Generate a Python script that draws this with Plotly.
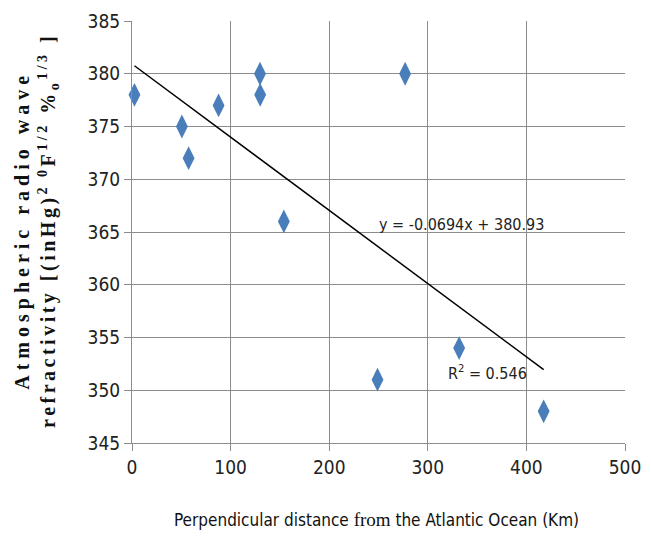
import plotly.graph_objects as go

distance_km = [2.5, 50.6, 57.4, 87.8, 129.8, 130.0, 154.0, 249.0, 277.0, 331.8, 417.5]
refractivity = [378, 375, 372, 377, 380, 378, 366, 351, 380, 354, 348]

slope = -0.0694
intercept = 380.93
r_squared = 0.546

x_ticks = [0, 100, 200, 300, 400, 500]
y_ticks = [345, 350, 355, 360, 365, 370, 375, 380, 385]

NARROW = "Liberation Sans Narrow, DejaVu Sans Condensed, Arial Narrow, sans-serif"
SERIF = "Liberation Serif, Times New Roman, serif"
GRID = "#8c8c8c"

x_line = [min(distance_km), max(distance_km)]
y_line = [slope * v + intercept for v in x_line]

fig = go.Figure()
fig.add_trace(go.Scatter(
    x=distance_km, y=refractivity, mode="markers",
    marker=dict(symbol="diamond-tall", size=17, color="#4A7EBB", line=dict(width=0)),
    showlegend=False, hoverinfo="x+y", cliponaxis=False))
fig.add_trace(go.Scatter(
    x=x_line, y=y_line, mode="lines",
    line=dict(color="black", width=1.5), showlegend=False, hoverinfo="skip"))

axis_common = dict(
    showgrid=True, gridcolor=GRID, gridwidth=1,
    showline=True, linecolor=GRID, linewidth=1, mirror=False,
    ticks="outside", ticklen=7, tickcolor=GRID, tickwidth=1,
    zeroline=False, automargin=False,
    tickfont=dict(family=NARROW, size=19, color="#222"),
)

fig.update_xaxes(range=[0, 500], tickvals=x_ticks, **axis_common)
fig.update_yaxes(range=[345, 385], tickvals=y_ticks, **axis_common)

fig.add_annotation(
    x=334.5, y=365.7, xref="x", yref="y",
    text=f"y = {slope}x + {intercept}", showarrow=False,
    font=dict(family=NARROW, size=16, color="#222"))
fig.add_annotation(
    x=361, y=351.7, xref="x", yref="y",
    text=f"R<sup>2</sup> = {r_squared}", showarrow=False,
    font=dict(family=NARROW, size=16, color="#222"))

fig.add_annotation(
    x=0.496, y=-0.182, xref="paper", yref="paper",
    xanchor="center", yanchor="middle", showarrow=False,
    text="Perpendicular distance <span style='font-family:Liberation Serif, serif;font-size:19px'>from</span> the Atlantic Ocean (Km)",
    font=dict(family=NARROW, size=17, color="#111"))

fig.add_annotation(
    x=-0.1927, y=0.505, xref="paper", yref="paper",
    xanchor="center", yanchor="middle", showarrow=False, textangle=-90,
    text=("<span style='letter-spacing:5px'><b>Atmospheric radio wave</b></span><br>"
          "<span style='letter-spacing:3.5px'><b>refractivity [(inHg)<sup>2 0</sup>F<sup>1/2</sup> %<sub>o</sub><sup>1/3</sup> ]</b></span>"),
    font=dict(family=SERIF, size=20, color="#111"))

# page body has an 8px margin, so the figure is sized/offset to compensate
fig.update_layout(
    width=643, height=528,
    margin=dict(l=124, r=26, t=13, b=93, autoexpand=False),
    paper_bgcolor="white", plot_bgcolor="white",
)

fig.write_html("out.html")
